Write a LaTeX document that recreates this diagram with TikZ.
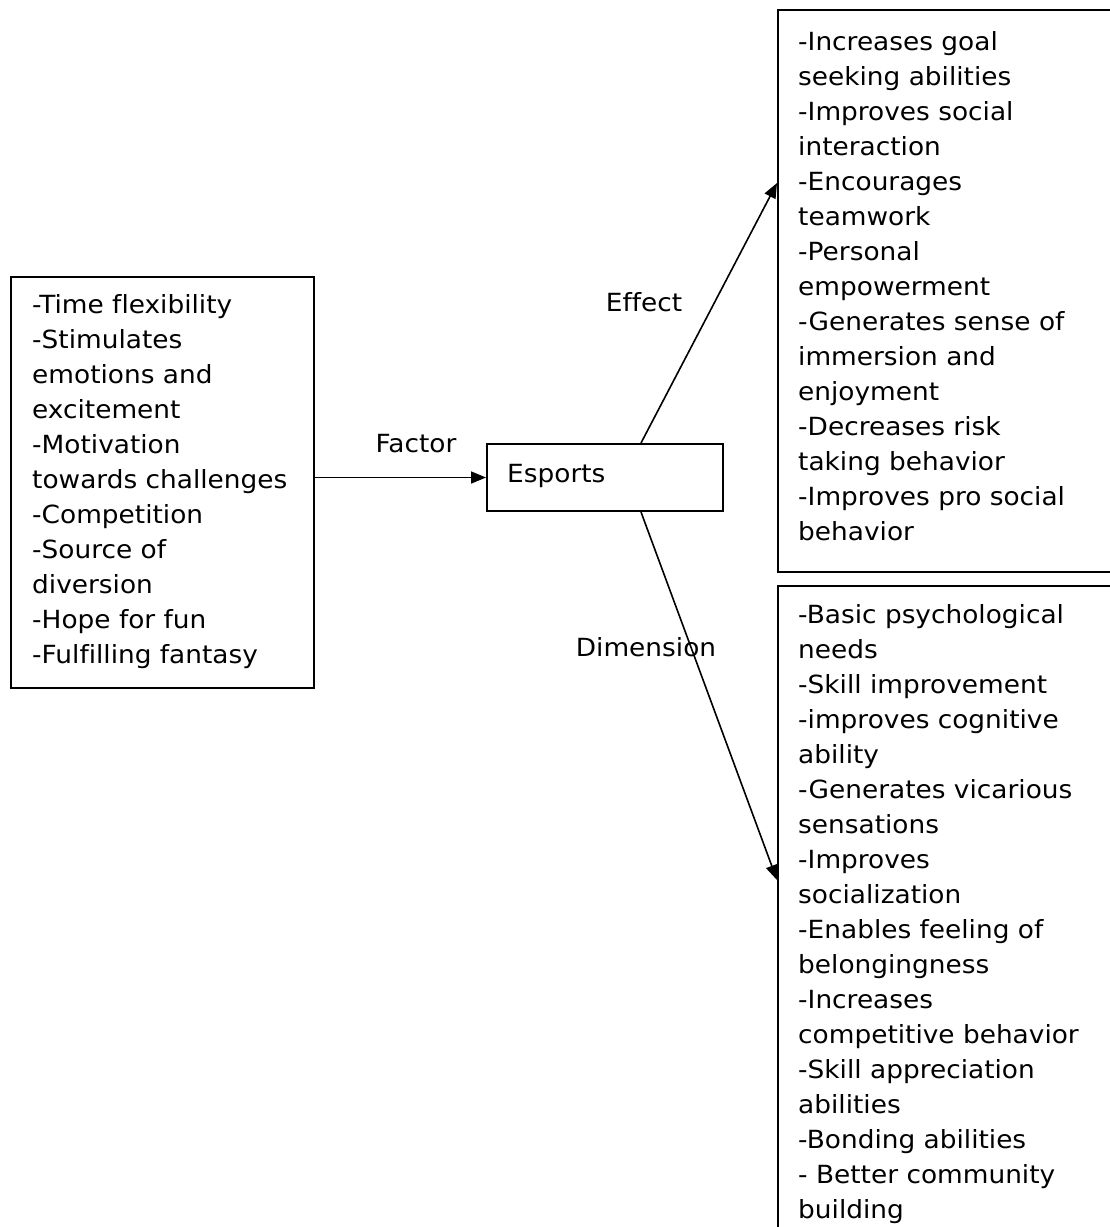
\documentclass[tikz,border=0pt]{standalone}
\usepackage{fontspec}
\setmainfont{DejaVu Sans}[FakeStretch=1.055,Ligatures=NoCommon]
\usetikzlibrary{arrows.meta,calc}
\begin{document}
\begin{tikzpicture}[x=1pt,y=-1pt,
  box/.style={draw,line width=2pt,rectangle,inner sep=0pt,anchor=north west},
  txt/.style={anchor=base west,inner sep=0pt,font=\fontsize{25}{35}\selectfont},
  lbl/.style={anchor=base,inner sep=0pt,font=\fontsize{25}{35}\selectfont},
  arr/.style={line width=1.6pt,-{Triangle[length=15pt,width=12pt]}}]
\useasboundingbox (0,0) rectangle (1110,1227);
\clip (0,0) rectangle (1110,1227);
\fill[white] (0,0) rectangle (1110,1227);
% boxes
\node[box,minimum width=303pt,minimum height=411pt] (lb) at (10,276) {};
\node[box,minimum width=236pt,minimum height=67pt] (es) at (486,443) {};
\node[box,minimum width=400pt,minimum height=562pt] (tr) at (777,9) {};
\node[box,minimum width=400pt,minimum height=700pt] (br) at (777,585) {};
% texts
\node[txt] (lbt) at ($(lb.north west)+(22,37)$) {\begin{tabular}[t]{@{}l@{}}
-Time flexibility\\
-Stimulates\\
emotions and\\
excitement\\
-Motivation\\
towards challenges\\
-Competition\\
-Source of\\
diversion\\
-Hope for fun\\
-Fulfilling fantasy\end{tabular}};
\node[txt] (est) at ($(es.north west)+(21,39)$) {Esports};
\node[txt] (trt) at ($(tr.north west)+(21,41)$) {\begin{tabular}[t]{@{}l@{}}
-Increases goal\\
seeking abilities\\
-Improves social\\
interaction\\
-Encourages\\
teamwork\\
-Personal\\
empowerment\\
-Generates sense of\\
immersion and\\
enjoyment\\
-Decreases risk\\
taking behavior\\
-Improves pro social\\
behavior\end{tabular}};
\node[txt] (brt) at ($(br.north west)+(21,38)$) {\begin{tabular}[t]{@{}l@{}}
-Basic psychological\\
needs\\
-Skill improvement\\
-improves cognitive\\
ability\\
-Generates vicarious\\
sensations\\
-Improves\\
socialization\\
-Enables feeling of\\
belongingness\\
-Increases\\
competitive behavior\\
-Skill appreciation\\
abilities\\
-Bonding abilities\\
- Better community\\
building\end{tabular}};
% connectors
\draw[arr] (lb.east |- es.west) -- (es.west);
\draw[arr] ([xshift=36pt]es.north) -- ($(tr.north west)+(0,174)$);
\draw[arr] ([xshift=36pt]es.south) -- ($(br.north west)+(0,295)$);
% labels
\node[lbl] (lfac) at (416,452) {Factor};
\node[lbl] (leff) at (644,311) {Effect};
\node[lbl] (ldim) at (646,656) {Dimension};
\end{tikzpicture}
\end{document}
